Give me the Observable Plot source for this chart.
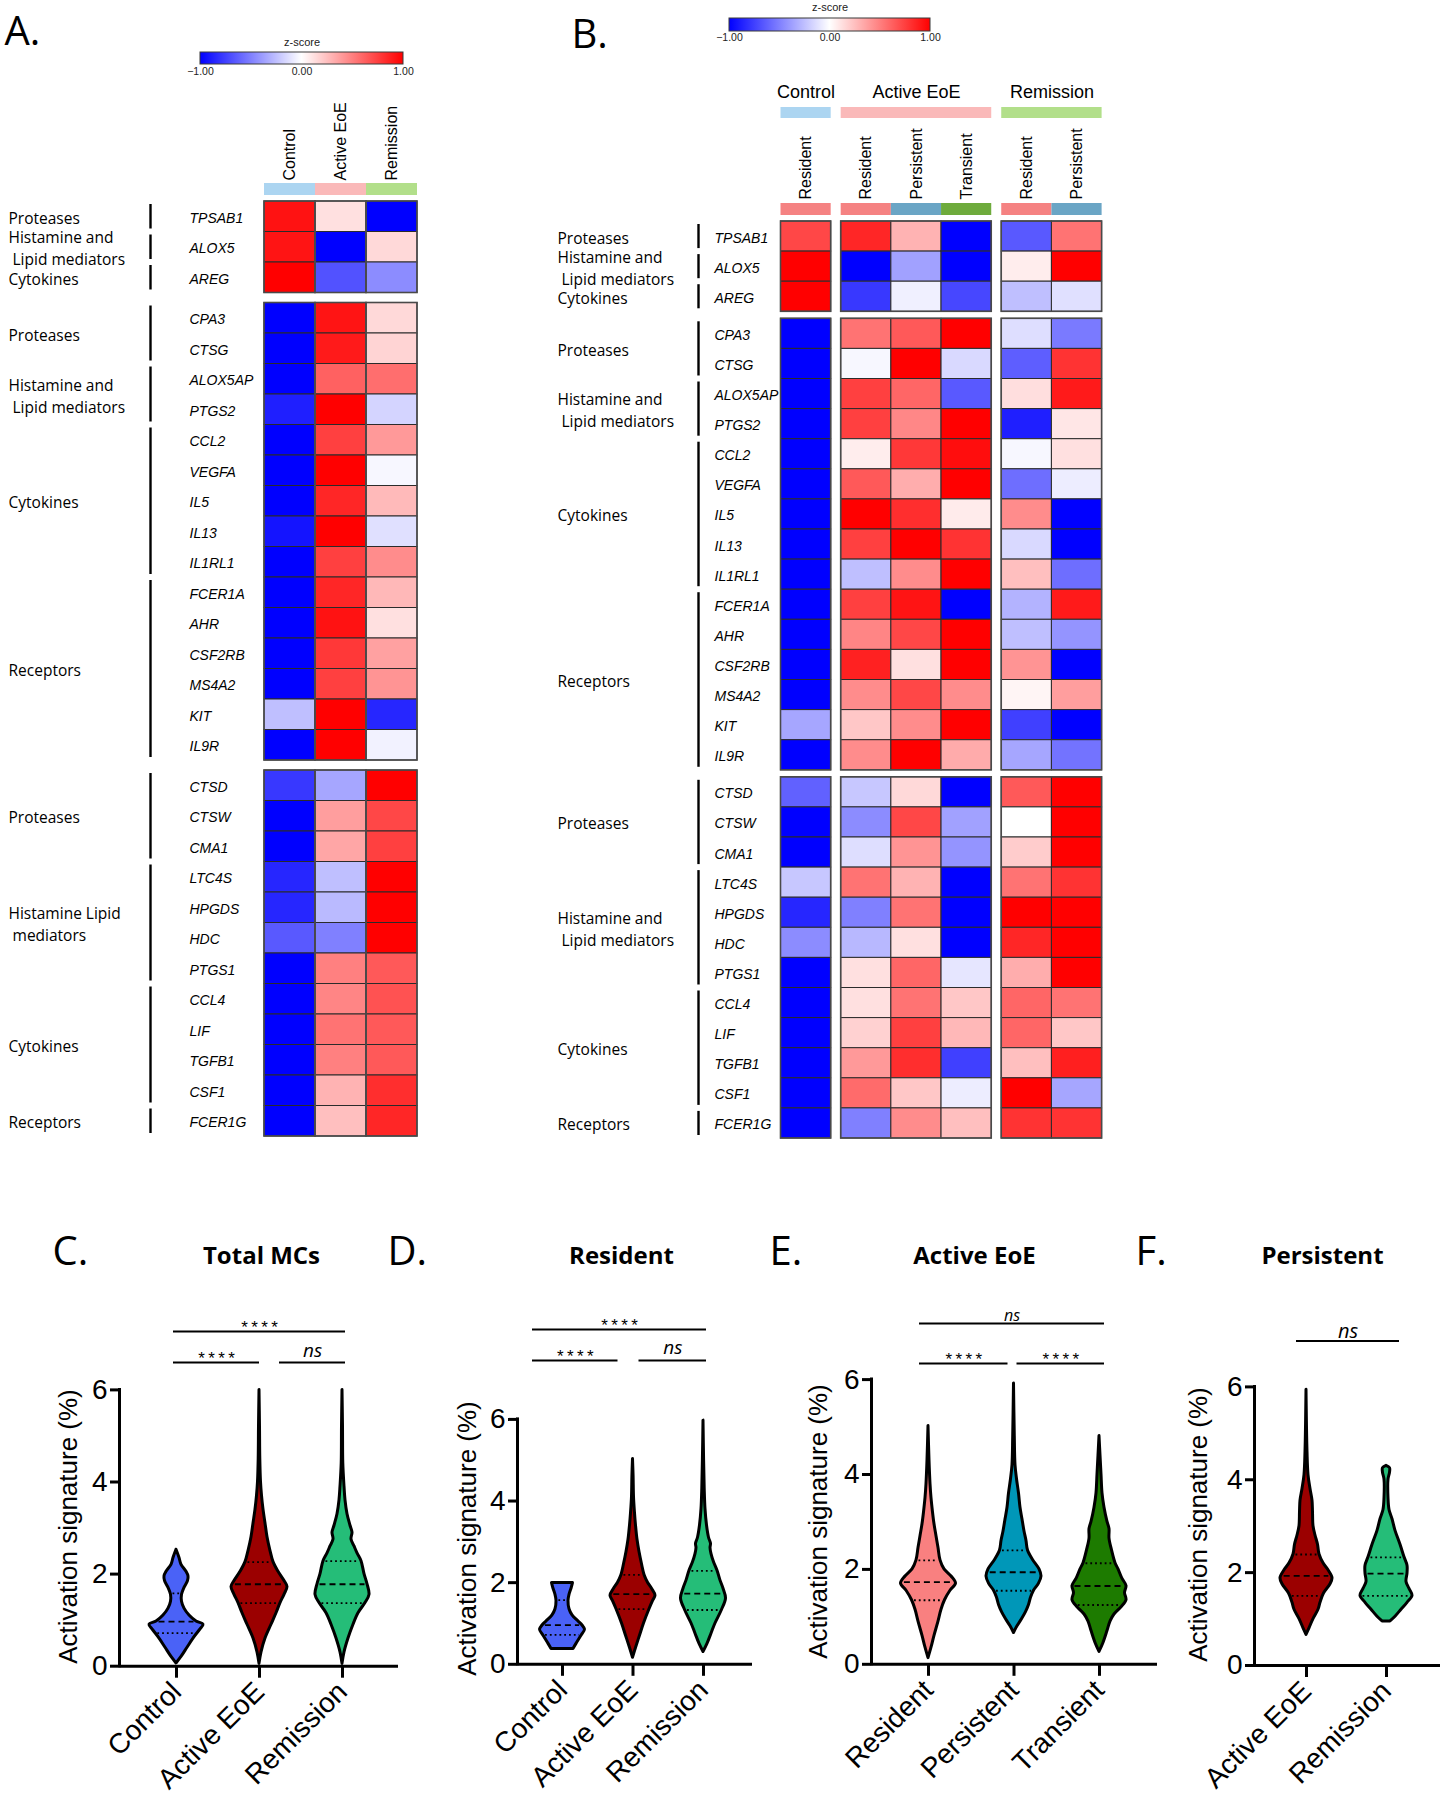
<!DOCTYPE html>
<html><head><meta charset="utf-8">
<script src="https://cdn.jsdelivr.net/npm/d3@7"></script>
<script src="https://cdn.jsdelivr.net/npm/@observablehq/plot@0.6"></script>
<style>
html,body{margin:0;padding:0;background:#fff;overflow:hidden}
#root{position:relative;width:1445px;height:1800px;background:#fff}
</style></head><body><div id="root"></div>
<script>
// ---------------- DATA ----------------
const genesBlock1 = ["TPSAB1","ALOX5","AREG"];
const genesBlock2 = ["CPA3","CTSG","ALOX5AP","PTGS2","CCL2","VEGFA","IL5","IL13","IL1RL1","FCER1A","AHR","CSF2RB","MS4A2","KIT","IL9R"];
const genesBlock3 = ["CTSD","CTSW","CMA1","LTC4S","HPGDS","HDC","PTGS1","CCL4","LIF","TGFB1","CSF1","FCER1G"];

// Panel A z-scores (gene order: block1, block2, block3)
const zA_Control   = [0.93,0.92,1.0,-1,-1,-1,-0.88,-1,-1,-1,-0.92,-1,-1,-1,-1,-1,-0.25,-1,-0.78,-1,-1,-0.85,-0.85,-0.65,-1,-1,-1,-1,-1,-1];
const zA_Active    = [0.12,-1,-0.68,0.92,0.9,0.62,1.0,0.75,1.0,0.85,1.0,0.75,0.85,0.93,0.78,0.75,1.0,1.0,-0.35,0.38,0.35,-0.25,-0.27,-0.5,0.5,0.48,0.55,0.5,0.3,0.25];
const zA_Remission = [-1,0.15,-0.45,0.15,0.17,0.57,-0.17,0.4,-0.03,0.27,-0.12,0.45,0.28,0.12,0.37,0.42,-0.85,-0.05,1.0,0.72,0.75,1.0,1.0,1.0,0.65,0.68,0.65,0.65,0.82,0.85];

// Panel B z-scores
const zB_CtrlRes   = [0.72,1.0,1.0,-1,-1,-1,-1,-1,-1,-1,-1,-1,-1,-1,-1,-1,-0.35,-1,-0.62,-1,-1,-0.22,-0.85,-0.45,-1,-1,-1,-1,-1,-1];
const zB_ActRes    = [0.85,-1,-0.78,0.55,-0.03,0.75,0.75,0.07,0.65,1.0,0.75,-0.25,0.75,0.48,0.87,0.45,0.22,0.45,-0.22,-0.45,-0.13,0.55,-0.5,-0.28,0.12,0.12,0.18,0.4,0.58,-0.5];
const zB_ActPers   = [0.3,-0.37,-0.06,0.65,1.0,0.6,0.47,0.78,0.32,0.82,1.0,0.45,0.92,0.72,0.12,0.72,0.45,1.0,0.15,0.72,0.42,0.3,0.55,0.12,0.6,0.55,0.75,0.82,0.22,0.45];
const zB_ActTrans  = [-1,-1,-0.72,1.0,-0.15,-0.65,1.0,0.95,1.0,0.08,0.8,1.0,-1,1.0,1.0,0.45,1.0,0.33,-1,-0.37,-0.42,-1,-1,-1,-0.1,0.22,0.28,-0.75,-0.07,0.25];
const zB_RemRes    = [-0.65,0.07,-0.25,-0.13,-0.63,0.13,-0.88,-0.03,-0.57,0.45,-0.15,0.25,-0.3,-0.25,0.42,0.04,-0.75,-0.35,0.65,0.0,0.2,0.55,1.0,0.85,0.32,0.6,0.6,0.25,1.0,0.8];
const zB_RemPers   = [0.55,1.0,-0.12,-0.52,0.8,0.9,0.1,0.12,-0.07,-1,-1,-0.57,0.9,-0.42,-1,0.38,-1,-0.55,1.0,1.0,1.0,0.8,1.0,1.0,1.0,0.55,0.22,0.88,-0.35,0.8];

const groupsA = ["Control","Active EoE","Remission"];
const groupsB = ["Control","Active EoE","Active EoE","Active EoE","Remission","Remission"];
const subtypesB = ["Resident","Resident","Persistent","Transient","Resident","Persistent"];

const catLabelsA = ["Proteases","Histamine and\n\u00a0Lipid mediators","Cytokines","Proteases","Histamine and\n\u00a0Lipid mediators","Cytokines","Receptors","Proteases","Histamine Lipid\n\u00a0mediators","Cytokines","Receptors"];
const catLabelsB = ["Proteases","Histamine and\n\u00a0Lipid mediators","Cytokines","Proteases","Histamine and\n\u00a0Lipid mediators","Cytokines","Receptors","Proteases","Histamine and\n\u00a0Lipid mediators","Cytokines","Receptors"];
const catFirst = ["TPSAB1","ALOX5","AREG","CPA3","ALOX5AP","CCL2","FCER1A","CTSD","LTC4S","CCL4","FCER1G"];
const catLast  = ["TPSAB1","ALOX5","AREG","CTSG","PTGS2","IL1RL1","IL9R","CMA1","PTGS1","CSF1","FCER1G"];

const zTicks = [-1, 0, 1];

// Violin outlines: [activation signature %, relative half-width]
const violinC_Control   = [[0.06,0],[0.2,5],[0.4,11],[0.6,17],[0.8,24],[0.9,27],[0.97,20],[1.1,13],[1.25,8],[1.4,5.5],[1.55,5.5],[1.7,8],[1.85,11.5],[1.95,12],[2.05,10],[2.2,5],[2.35,3],[2.53,0]];
const violinC_Active    = [[0.05,0],[0.3,2],[0.6,6],[0.9,12],[1.15,17],[1.37,21],[1.55,25],[1.72,28],[1.85,25],[2.05,19],[2.26,14],[2.5,11],[2.8,8],[3.1,6],[3.4,4],[3.7,2.5],[4.0,1.5],[4.5,0.8],[5.2,0.5],[6.0,0]];
const violinC_Remission = [[0.05,0],[0.3,2],[0.6,6],[0.9,11],[1.15,16],[1.37,23],[1.55,27],[1.78,25],[2.0,22],[2.28,19],[2.45,15],[2.6,12],[2.75,9],[2.9,10],[3.05,8],[3.3,5],[3.6,3],[3.9,2],[4.4,0.8],[5.2,0.5],[6.0,0]];
const quartC = [[0.72,0.97,1.58],[1.37,1.78,2.26],[1.37,1.78,2.28]];

const violinD_Control   = [[0.375,11],[0.5,14],[0.7,19],[0.85,22.5],[0.95,20],[1.05,16],[1.2,10],[1.35,7],[1.55,6],[1.7,7],[1.85,9],[1.99,10.5]];
const violinD_Active    = [[0.16,0],[0.4,3],[0.7,7],[1.0,11],[1.35,16.5],[1.55,20],[1.68,22.5],[1.85,19],[2.0,15],[2.19,11.5],[2.45,9],[2.75,6.5],[3.05,4.5],[3.4,3],[3.7,2],[4.1,1],[4.6,0.6],[5.03,0]];
const violinD_Remission = [[0.3,0],[0.5,4],[0.75,8],[1.0,12],[1.33,18.5],[1.61,22.5],[1.85,20],[2.05,17],[2.29,14],[2.5,10.5],[2.7,8],[2.85,7],[2.95,7.5],[3.1,5.5],[3.4,3.5],[3.8,2],[4.3,1.2],[5.0,0.6],[5.97,0]];
const quartD = [[0.72,0.96,1.57],[1.35,1.72,2.19],[1.33,1.73,2.29]];

const violinE_Resident   = [[0.13,0],[0.35,3],[0.6,6],[0.9,10],[1.15,13],[1.35,16.5],[1.55,22],[1.7,27.5],[1.85,23],[2.0,16],[2.19,12],[2.45,10],[2.7,8],[2.95,6],[3.2,4.5],[3.5,3],[3.8,2],[4.3,1],[5.02,0]];
const violinE_Persistent = [[0.66,0],[0.8,3.5],[0.95,8],[1.1,12],[1.25,15],[1.4,17],[1.55,20],[1.7,25],[1.85,27.5],[2.0,25.5],[2.2,19],[2.4,14],[2.6,12.5],[2.8,10.5],[3.05,8.5],[3.3,6.5],[3.6,5],[3.9,3],[4.2,1.5],[4.8,0.8],[5.92,0]];
const violinE_Transient  = [[0.26,0],[0.45,4],[0.7,8],[0.9,11],[1.05,15],[1.2,22],[1.35,27],[1.5,25.5],[1.65,27],[1.8,23],[2.0,19],[2.13,16],[2.4,12.5],[2.65,10],[2.85,10],[3.0,8],[3.3,5],[3.6,3],[4.0,2],[4.4,1],[4.81,0]];
const quartE = [[1.35,1.73,2.19],[1.55,1.94,2.4],[1.25,1.65,2.13]];

const violinF_Active    = [[0.66,0],[0.8,3],[1.0,7],[1.2,12],[1.35,14],[1.55,17.5],[1.75,24],[1.88,26],[2.05,22],[2.2,17],[2.39,13],[2.6,11.5],[2.8,9],[3.0,7],[3.3,6.5],[3.55,6],[3.8,4],[4.1,2],[4.6,1],[5.94,0]];
const violinF_Remission = [[0.95,4],[1.05,9],[1.2,15],[1.35,21],[1.5,26],[1.65,23],[1.8,20],[1.98,21],[2.15,21],[2.33,18],[2.6,14],[2.9,9],[3.15,6],[3.35,3],[3.6,2],[4.0,2],[4.15,3.5],[4.25,3.5],[4.3,0]];
const quartF = [[1.5,1.93,2.39],[1.5,1.98,2.33]];

const catsC = ["Control","Active EoE","Remission"];
const catsD = ["Control","Active EoE","Remission"];
const catsE = ["Resident","Persistent","Transient"];
const catsF = ["Active EoE","Remission"];
const yTicks = [0, 2, 4, 6];

const sigC = [{a:"Control",b:"Active EoE",label:"****",tier:0},{a:"Active EoE",b:"Remission",label:"ns",tier:0},{a:"Control",b:"Remission",label:"****",tier:1}];
const sigD = [{a:"Control",b:"Active EoE",label:"****",tier:0},{a:"Active EoE",b:"Remission",label:"ns",tier:0},{a:"Control",b:"Remission",label:"****",tier:1}];
const sigE = [{a:"Resident",b:"Persistent",label:"****",tier:0},{a:"Persistent",b:"Transient",label:"****",tier:0},{a:"Resident",b:"Transient",label:"ns",tier:1}];
const sigF = [{a:"Active EoE",b:"Remission",label:"ns",tier:0}];

const yAxisLabel = "Activation signature (%)";

// ---------------- STYLE / LAYOUT ----------------
const fontArial = "'Liberation Sans', Arial, sans-serif";
const fontCal = "'Open Sans', 'Noto Sans', sans-serif";
const zRange = ["#0000ff","#ffffff","#ff0000"];
const groupStripColor = {"Control":"#acd5f1","Active EoE":"#fab9b9","Remission":"#b2df8a"};
const subStripColor = {"Resident":"#f58282","Persistent":"#6aa5c5","Transient":"#6eab3c"};
const colControl = "#4a62f7", colActive = "#9b0000", colRemission = "#25bd78";
const colResident = "#f98080", colPersistent = "#0097b8", colTransient = "#1d7b00";

const root = document.getElementById("root");
const genesAll = genesBlock1.concat(genesBlock2, genesBlock3);
const blockOf = genesAll.map(g => genesBlock1.includes(g) ? 0 : genesBlock2.includes(g) ? 1 : 2);

function styleFor(box) {
  return `position:absolute;left:${box.left}px;top:${box.top}px;background:transparent;overflow:visible;max-width:none;font-family:'Liberation Sans',Arial,sans-serif;`;
}
// panel letter / title texts (page px) converted into a plot's data units
function labelMarks(labels, toX, toY) {
  return labels.map(l => Plot.text([l.text], {x: toX(l.x), y: toY(l.y), text: d => d,
    textAnchor: l.anchor || "middle", fontFamily: fontCal, fontSize: l.size, fontWeight: l.weight || "normal"}));
}

function heatmap(o, box) {
  const groups = [...new Set(o.columns.map(c => c.group))];
  const nC = o.columns.length, nG = groups.length, nR = genesAll.length;
  const colW = (o.x1 - o.x0 - (nG - 1) * o.colGap) / nC;
  const gx = o.colGap / colW;
  const rowH = (o.y1 - o.y0 - 2 * o.rowGap) / nR;
  const gy = o.rowGap / rowH;
  const colX = o.columns.map((c, j) => j + groups.indexOf(c.group) * gx);
  const rowY = genesAll.map((g, i) => i + blockOf[i] * gy);
  const xMax = nC + (nG - 1) * gx, yMax = nR + 2 * gy;
  const px = v => (v - o.x0) / colW;
  const py = v => (v - o.y0) / rowH;
  const cells = [];
  o.columns.forEach((c, j) => genesAll.forEach((g, i) =>
    cells.push({x1: colX[j], x2: colX[j] + 1, y1: rowY[i], y2: rowY[i] + 1, v: c.values[i]})));
  const spans = groups.map(gn => {
    const cs = colX.filter((_, j) => o.columns[j].group === gn);
    return {group: gn, x1: d3.min(cs), x2: d3.max(cs) + 1};
  });
  const blocks = [];
  for (let b = 0; b < 3; b++) {
    const rows = rowY.filter((_, i) => blockOf[i] === b);
    spans.forEach(s => blocks.push({x1: s.x1, x2: s.x2, y1: d3.min(rows), y2: d3.max(rows) + 1}));
  }
  const inset = 3 / rowH;
  const cats = o.catLabels.map((label, k) => ({label,
    y1: rowY[genesAll.indexOf(catFirst[k])], y2: rowY[genesAll.indexOf(catLast[k])] + 1}));
  const marks = [
    Plot.rect(cells, {x1: "x1", x2: "x2", y1: "y1", y2: "y2", fill: "v", stroke: "#2b2b2b", strokeWidth: 1}),
    Plot.rect(blocks, {x1: "x1", x2: "x2", y1: "y1", y2: "y2", fill: "none", stroke: "#4a4a4a", strokeWidth: 1.6}),
    Plot.text(genesAll, {x: px(o.geneX), y: (g, i) => rowY[i] + 0.55, text: d => d, textAnchor: "start", fontStyle: "italic", fontSize: 14, fontFamily: fontArial}),
    Plot.ruleX(cats, {x: px(o.bracketX), y1: d => d.y1 + inset, y2: d => d.y2 - inset, strokeWidth: 2.4}),
    Plot.text(cats, {x: px(o.catX), y: d => (d.y1 + d.y2) / 2, text: "label", textAnchor: "start", fontFamily: fontCal, fontSize: 15.5, lineHeight: 1.42}),
    Plot.rect(spans, {x1: "x1", x2: "x2", y1: py(o.groupStrip[0]), y2: py(o.groupStrip[1]), fill: d => groupStripColor[d.group]}),
    Plot.text(o.columns, {x: (c, j) => colX[j] + 0.5, y: py(o.colLabelBottom), text: "label", rotate: -90, textAnchor: "start", fontSize: 16, fontFamily: fontArial})
  ];
  if (o.subStrip) marks.push(Plot.rect(o.columns, {x1: (c, j) => colX[j], x2: (c, j) => colX[j] + 1, y1: py(o.subStrip[0]), y2: py(o.subStrip[1]), fill: c => subStripColor[c.label]}));
  if (o.groupLabelY) marks.push(Plot.text(spans, {x: d => (d.x1 + d.x2) / 2, y: py(o.groupLabelY), text: "group", fontSize: 18, fontFamily: fontArial}));
  const p = Plot.plot({
    width: box.w, height: box.h, margin: 0, style: styleFor(box),
    x: {type: "linear", domain: [0, xMax], range: [o.x0 - box.left, o.x1 - box.left], axis: null},
    y: {type: "linear", domain: [0, yMax], range: [o.y0 - box.top, o.y1 - box.top], axis: null},
    color: {type: "linear", domain: [-1, 0, 1], range: zRange, interpolate: "rgb"},
    marks
  });
  root.appendChild(p);
}

function colorbar(o, box, labels) {
  const px = v => -1 + 2 * (v - o.x0) / (o.x1 - o.x0);
  const py = v => (o.yb - v) / (o.yb - o.yt);
  const p = Plot.plot({
    width: box.w, height: box.h, margin: 0, style: styleFor(box),
    x: {domain: [-1, 1], range: [o.x0 - box.left, o.x1 - box.left], axis: null},
    y: {domain: [0, 1], range: [o.yb - box.top, o.yt - box.top], axis: null},
    marks: [
      Plot.rect([0], {x1: -1, x2: 1, y1: 0, y2: 1, fill: `url(#${o.id})`, stroke: "#3a3a3a", strokeWidth: 1}),
      Plot.text(zTicks, {x: d => d, y: py(o.tickY), text: d => d3.format(".2f")(d), fontSize: 10.5, fontFamily: fontArial, fill: "#222"}),
      Plot.text(["z-score"], {x: 0, y: py(o.titleY), text: d => d, fontSize: 11, fontFamily: fontArial, fill: "#222"}),
      ...labelMarks(labels, px, py)
    ]
  });
  const g = d3.select(p).insert("defs", ":first-child").append("linearGradient")
    .attr("id", o.id).attr("x1", 0).attr("x2", 1).attr("y1", 0).attr("y2", 0);
  zRange.forEach((c, i) => g.append("stop").attr("offset", i / (zRange.length - 1)).attr("stop-color", c));
  root.appendChild(p);
}

function violinPanel(cfg, box, labels) {
  const L = cfg.layout, n = cfg.cats.length;
  const xv = v => (v - L.c0) / L.sp;
  const ppu = (L.y0 - L.y6) / 6;
  const yv = v => (L.y0 - v) / ppu;
  const interp = (prof, v) => {
    for (let k = 0; k < prof.length - 1; k++) {
      const [a, wa] = prof[k], [b, wb] = prof[k + 1];
      if (v >= a && v <= b) return wa + (wb - wa) * (v - a) / (b - a);
    }
    return 0;
  };
  const marks = [];
  cfg.cats.forEach((cat, i) => {
    const prof = cfg.profiles[i];
    marks.push(Plot.areaX(prof, {y: d => d[0], x1: d => i - d[1] / L.sp, x2: d => i + d[1] / L.sp,
      fill: cfg.colors[i], stroke: "#000", strokeWidth: 3, strokeLinejoin: "round", curve: "catmull-rom"}));
    const q = cfg.quart[i];
    const half = v => Math.max(0, interp(prof, v) - 2.5) / L.sp;
    marks.push(Plot.ruleY([q[0], q[2]], {y: d => d, x1: v => i - half(v), x2: v => i + half(v), stroke: "#000", strokeWidth: 1.8, strokeDasharray: "1.8,3"}));
    marks.push(Plot.ruleY([q[1]], {y: d => d, x1: v => i - half(v), x2: v => i + half(v), stroke: "#000", strokeWidth: 1.8, strokeDasharray: "6,4"}));
  });
  marks.push(Plot.ruleX([xv(L.axisX)], {x: d => d, y1: 0, y2: 6, strokeWidth: 3, strokeLinecap: "square"}));
  marks.push(Plot.ruleY([0], {y: d => d, x1: xv(L.axisX), x2: xv(L.axisEnd), strokeWidth: 3}));
  marks.push(Plot.axisY({ticks: yTicks, tickFormat: d3.format("d"), tickSize: 9, tickPadding: 3, strokeWidth: 3, fontSize: 28, label: null, fontFamily: fontArial}));
  marks.push(Plot.axisX({ticks: d3.range(n), tickFormat: i => cfg.cats[i], tickRotate: -45, tickSize: 12, tickPadding: 9, strokeWidth: 3, fontSize: 28, label: null, fontFamily: fontArial}));
  marks.push(Plot.text([yAxisLabel], {x: xv(L.labelX), y: yv(L.labelY), text: d => d, rotate: -90, fontSize: 26, fontFamily: fontArial}));
  const bars = cfg.sig.map(s => {
    const a = cfg.cats.indexOf(s.a), b = cfg.cats.indexOf(s.b);
    let x1 = L.c0 + a * L.sp - L.padL, x2 = L.c0 + b * L.sp + L.padR;
    if (s.tier === 0 && a > 0) x1 = L.c0 + a * L.sp + L.innerR;
    if (s.tier === 0 && b < n - 1) x2 = L.c0 + b * L.sp - L.innerL;
    const yb = L.tierPx[s.tier];
    return {...s, x1: xv(x1), x2: xv(x2), y: yv(yb), ty: yv(yb - (s.label === "ns" ? L.nsLift : 4))};
  });
  marks.push(Plot.ruleY(bars, {y: "y", x1: "x1", x2: "x2", strokeWidth: 2.2}));
  marks.push(Plot.text(bars.filter(d => d.label !== "ns"), {x: d => (d.x1 + d.x2) / 2, y: "ty", text: d => d.label.split("").join("\u2009"), fontSize: 17, fontFamily: fontArial}));
  marks.push(Plot.text(bars.filter(d => d.label === "ns"), {x: d => (d.x1 + d.x2) / 2, y: "ty", text: "label", fontSize: L.nsSize, fontStyle: "italic", fontFamily: fontCal}));
  marks.push(...labelMarks(labels, xv, yv));
  const p = Plot.plot({
    width: box.w, height: box.h, style: styleFor(box),
    marginLeft: L.axisX - box.left, marginRight: 0, marginTop: 0, marginBottom: box.top + box.h - L.y0,
    x: {type: "linear", domain: [0, n - 1], range: [L.c0 - box.left, L.c0 - box.left + (n - 1) * L.sp], axis: null},
    y: {type: "linear", domain: [0, 6], range: [L.y0 - box.top, L.y6 - box.top], axis: null},
    marks
  });
  root.appendChild(p);
}

// ---------------- BUILD ----------------
colorbar({id: "zgradA", x0: 200, x1: 403, yt: 52, yb: 64, tickY: 71, titleY: 42},
  {left: 0, top: 0, w: 450, h: 82},
  [{text: "A.", x: 4, y: 32, size: 40, anchor: "start"}]);
colorbar({id: "zgradB", x0: 729, x1: 930, yt: 18, yb: 31, tickY: 37, titleY: 7},
  {left: 450, top: 0, w: 995, h: 62},
  [{text: "B.", x: 571, y: 35, size: 40, anchor: "start"}]);

heatmap({
  columns: groupsA.map((g, j) => ({group: g, label: g, values: [zA_Control, zA_Active, zA_Remission][j]})),
  x0: 264, x1: 417, colGap: 0, y0: 201, y1: 1136, rowGap: 10,
  geneX: 189, bracketX: 150, catX: 8, catLabels: catLabelsA,
  groupStrip: [183, 195], colLabelBottom: 180, subStrip: null, groupLabelY: null
}, {left: 0, top: 82, w: 450, h: 1078});

heatmap({
  columns: groupsB.map((g, j) => ({group: g, label: subtypesB[j], values: [zB_CtrlRes, zB_ActRes, zB_ActPers, zB_ActTrans, zB_RemRes, zB_RemPers][j]})),
  x0: 780.5, x1: 1101.6, colGap: 10, y0: 221, y1: 1138, rowGap: 7,
  geneX: 714, bracketX: 698, catX: 557, catLabels: catLabelsB,
  groupStrip: [107, 118], colLabelBottom: 199, subStrip: [203, 215], groupLabelY: 92
}, {left: 450, top: 62, w: 995, h: 1098});

violinPanel({cats: catsC, profiles: [violinC_Control, violinC_Active, violinC_Remission], quart: quartC,
  colors: [colControl, colActive, colRemission], sig: sigC,
  layout: {axisX: 119, axisEnd: 398, y0: 1665.7, y6: 1389.4, c0: 176, sp: 83, labelX: 68, labelY: 1526,
    tierPx: [1362, 1331], padL: 3, padR: 3, innerL: 0, innerR: 20, nsLift: 12, nsSize: 19}},
  {left: 0, top: 1160, w: 385, h: 640},
  [{text: "C.", x: 52, y: 1252, size: 40, anchor: "start"}, {text: "Total MCs", x: 261, y: 1256, size: 24, weight: "bold"}]);
violinPanel({cats: catsD, profiles: [violinD_Control, violinD_Active, violinD_Remission], quart: quartD,
  colors: [colControl, colActive, colRemission], sig: sigD,
  layout: {axisX: 517, axisEnd: 752, y0: 1663.8, y6: 1418.9, c0: 562, sp: 70.5, labelX: 467, labelY: 1538,
    tierPx: [1360, 1329], padL: 30, padR: 3, innerL: 15, innerR: 6, nsLift: 13, nsSize: 19}},
  {left: 385, top: 1160, w: 380, h: 640},
  [{text: "D.", x: 387, y: 1252, size: 40, anchor: "start"}, {text: "Resident", x: 621, y: 1256, size: 24, weight: "bold"}]);
violinPanel({cats: catsE, profiles: [violinE_Resident, violinE_Persistent, violinE_Transient], quart: quartE,
  colors: [colResident, colPersistent, colTransient], sig: sigE,
  layout: {axisX: 871, axisEnd: 1157, y0: 1663.8, y6: 1379.1, c0: 928, sp: 85.5, labelX: 818, labelY: 1521,
    tierPx: [1363, 1323], padL: 9, padR: 5, innerL: 6, innerR: 3, nsLift: 8, nsSize: 16}},
  {left: 765, top: 1160, w: 367, h: 640},
  [{text: "E.", x: 769, y: 1252, size: 40, anchor: "start"}, {text: "Active EoE", x: 974, y: 1256, size: 24, weight: "bold"}]);
violinPanel({cats: catsF, profiles: [violinF_Active, violinF_Remission], quart: quartF,
  colors: [colActive, colRemission], sig: sigF,
  layout: {axisX: 1254, axisEnd: 1440, y0: 1665, y6: 1386.4, c0: 1306, sp: 80, labelX: 1198, labelY: 1524,
    tierPx: [1340.5], padL: 10, padR: 13, innerL: 0, innerR: 0, nsLift: 9, nsSize: 20}},
  {left: 1132, top: 1160, w: 313, h: 640},
  [{text: "F.", x: 1135, y: 1252, size: 40, anchor: "start"}, {text: "Persistent", x: 1322, y: 1256, size: 24, weight: "bold"}]);
</script></body></html>
